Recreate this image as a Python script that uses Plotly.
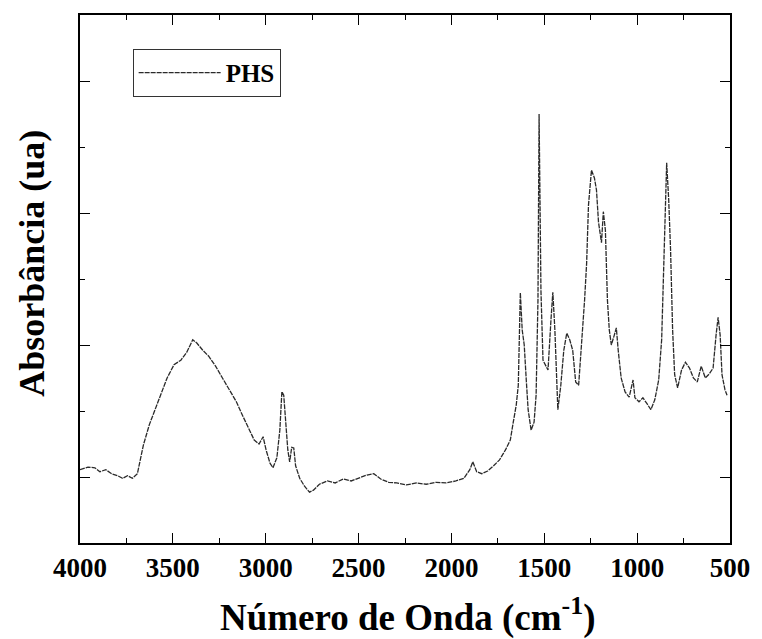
import plotly.graph_objects as go

wavenumber = [4000, 3957, 3920, 3893, 3861, 3830, 3798, 3771, 3744, 3718, 3691, 3659, 3627, 3595, 3563, 3531,
              3494, 3457, 3425, 3393, 3371, 3339, 3307, 3270, 3233, 3196, 3158, 3126, 3094, 3062, 3036, 3014,
              2998, 2977, 2961, 2940, 2924, 2913, 2903, 2892, 2881, 2871, 2860, 2849, 2839, 2817, 2791, 2764,
              2743, 2711, 2668, 2626, 2583, 2540, 2498, 2455, 2418, 2381, 2338, 2295, 2242, 2189, 2136, 2082,
              2029, 1976, 1933, 1901, 1885, 1864, 1837, 1805, 1773, 1741, 1709, 1683, 1667, 1651, 1640, 1629,
              1619, 1608, 1597, 1587, 1571, 1555, 1544, 1534, 1528, 1523, 1518, 1507, 1496, 1480, 1464, 1454,
              1443, 1427, 1411, 1395, 1379, 1363, 1347, 1331, 1315, 1299, 1283, 1272, 1262, 1246, 1230, 1219,
              1208, 1192, 1182, 1171, 1160, 1150, 1139, 1123, 1112, 1102, 1086, 1065, 1043, 1022, 1012, 990,
              969, 947, 926, 905, 884, 868, 857, 846, 841, 830, 820, 809, 798, 782, 761, 740, 718, 697, 676,
              655, 633, 612, 591, 575, 564, 553, 543, 527, 516]

absorbance = [1.11, 1.15, 1.14, 1.08, 1.11, 1.05, 1.02, 0.98, 1.02, 0.98, 1.05, 1.48, 1.79, 2.02, 2.24, 2.50,
              2.70, 2.77, 2.89, 3.08, 3.03, 2.92, 2.83, 2.68, 2.50, 2.32, 2.14, 1.94, 1.74, 1.56, 1.50, 1.61,
              1.41, 1.21, 1.14, 1.29, 1.71, 2.29, 2.24, 1.86, 1.41, 1.23, 1.45, 1.44, 1.17, 0.98, 0.86, 0.77,
              0.80, 0.89, 0.94, 0.91, 0.97, 0.94, 0.98, 1.03, 1.05, 0.97, 0.92, 0.91, 0.88, 0.91, 0.89, 0.92,
              0.91, 0.94, 0.98, 1.11, 1.23, 1.08, 1.05, 1.09, 1.17, 1.26, 1.41, 1.56, 1.83, 2.09, 2.39, 3.79,
              3.23, 3.00, 2.47, 2.02, 1.71, 1.83, 2.24, 3.68, 6.50, 5.20, 3.83, 2.77, 2.70, 2.62, 3.38, 3.80,
              3.23, 2.02, 2.39, 2.92, 3.18, 3.08, 2.92, 2.44, 2.39, 3.00, 3.68, 4.24, 5.12, 5.65, 5.53, 5.35,
              4.86, 4.55, 5.02, 4.74, 3.68, 3.23, 3.00, 3.15, 3.26, 2.92, 2.50, 2.29, 2.21, 2.47, 2.20, 2.14,
              2.20, 2.11, 2.02, 2.17, 2.47, 3.08, 4.36, 5.35, 5.76, 5.20, 4.44, 3.23, 2.55, 2.35, 2.62, 2.74,
              2.65, 2.50, 2.44, 2.68, 2.50, 2.56, 2.65, 3.15, 3.42, 3.15, 2.55, 2.32, 2.24]

x_ticks = [4000, 3500, 3000, 2500, 2000, 1500, 1000, 500]
x_tick_labels = ["4000", "3500", "3000", "2500", "2000", "1500", "1000", "500"]

serif = "Liberation Serif, Times New Roman, serif"

fig = go.Figure()
fig.add_trace(go.Scatter(
    x=wavenumber, y=absorbance, mode="lines", name="PHS",
    line=dict(color="#2a2a2a", width=1.3, dash="5px,1px"),
))

fig.update_layout(
    width=762, height=639,
    margin=dict(l=80, r=25, t=15, b=96),
    paper_bgcolor="white", plot_bgcolor="white",
    showlegend=True,
    legend=dict(
        x=0.081, y=0.936, xanchor="left", yanchor="top",
        bordercolor="#333", borderwidth=1, bgcolor="white",
        font=dict(family=serif, size=25, color="black", weight="bold"),
        itemwidth=82,
    ),
    font=dict(family=serif, color="black"),
    annotations=[
        dict(text="Número de Onda (cm<sup>-1</sup>)", xref="paper", yref="paper",
             x=0.504, y=-0.136, xanchor="center", yanchor="middle", showarrow=False,
             font=dict(family=serif, size=37, color="black", weight="bold")),
        dict(text="Absorbância (ua)", xref="paper", yref="paper", textangle=-90,
             x=-0.073, y=0.53, xanchor="center", yanchor="middle", showarrow=False,
             font=dict(family=serif, size=36, color="black", weight="bold")),
    ],
)

fig.update_xaxes(
    range=[4000, 500], autorange=False,
    tickvals=x_ticks, ticktext=x_tick_labels,
    ticks="inside", ticklen=10, tickwidth=1.3, tickcolor="black",
    minor=dict(dtick=250, tick0=500, ticks="inside", ticklen=5, tickwidth=1, tickcolor="black"),
    showline=True, linecolor="black", linewidth=2, mirror="allticks",
    showgrid=False, zeroline=False,
    tickfont=dict(family=serif, size=27, color="black", weight="bold"),
)

fig.update_yaxes(
    range=[0, 8], autorange=False,
    tick0=1, dtick=2, showticklabels=False,
    ticks="inside", ticklen=10, tickwidth=1.3, tickcolor="black",
    minor=dict(dtick=1, tick0=0, ticks="inside", ticklen=5, tickwidth=1, tickcolor="black"),
    showline=True, linecolor="black", linewidth=2, mirror="allticks",
    showgrid=False, zeroline=False,
)

fig.write_html("out.html")
